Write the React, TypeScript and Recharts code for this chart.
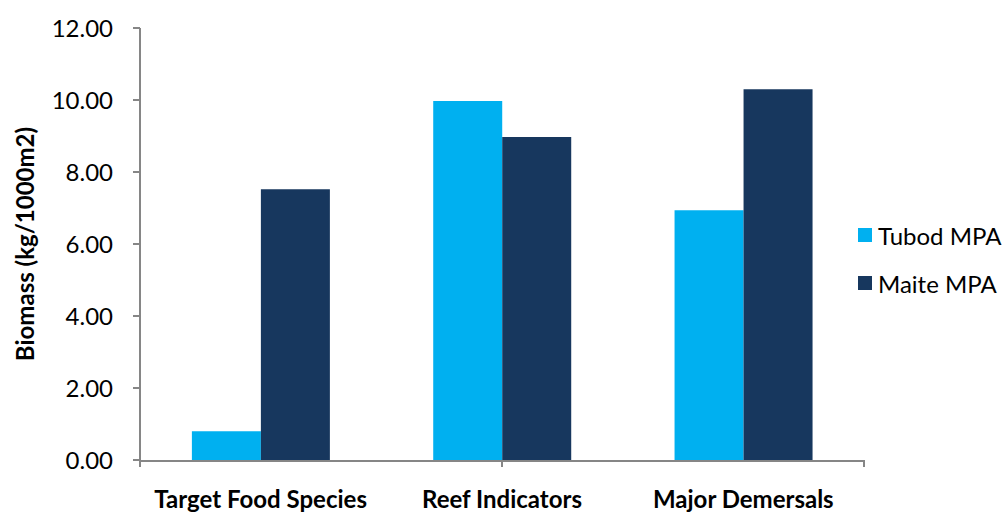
import { Bar, BarChart, Legend, XAxis, YAxis } from "recharts";

const categories = ["Target Food Species", "Reef Indicators", "Major Demersals"];
const tubod = [0.8, 9.97, 6.94];
const maite = [7.52, 8.97, 10.3];
const yTicks = [0, 2, 4, 6, 8, 10, 12];
const edgeTicks = [0, 1, 2, 3];

const data = categories.map((name, i) => ({ name, tubod: tubod[i], maite: maite[i] }));

const FONT = "Lato, 'Open Sans', sans-serif";
const AXIS = "#868686";

function LegendBox() {
  const items = [
    { label: "Tubod MPA", color: "#00B0F0" },
    { label: "Maite MPA", color: "#17375E" },
  ];
  return (
    <div style={{ fontFamily: FONT, fontSize: 24, color: "#000" }}>
      {items.map((it) => (
        <div key={it.label} style={{ display: "flex", alignItems: "center", height: 48 }}>
          <span
            style={{ width: 14, height: 14, background: it.color, display: "inline-block", marginRight: 6 }}
          />
          {it.label}
        </div>
      ))}
    </div>
  );
}

export default function App() {
  return (
    <div style={{ position: "absolute", left: 0, top: 0, background: "#fff" }}>
      <BarChart
        width={1008}
        height={512}
        data={data}
        margin={{ top: 28, right: 144, bottom: 0, left: 0 }}
        barCategoryGap="21.5%"
        barGap={0}
      >
        <XAxis
          xAxisId="a-edges"
          type="number"
          domain={[0, 3]}
          ticks={edgeTicks}
          interval={0}
          height={1}
          axisLine={false}
          tick={{ fill: "none", fontSize: 1 }}
          tickFormatter={() => ""}
          tickSize={7}
          tickLine={{ stroke: AXIS, strokeWidth: 2 }}
        />
        <XAxis
          xAxisId="main"
          dataKey="name"
          height={51}
          interval={0}
          axisLine={{ stroke: AXIS, strokeWidth: 2 }}
          tickLine={false}
          tickSize={7}
          tickMargin={23}
          tick={{ fontFamily: FONT, fontSize: 24, fontWeight: 700, fill: "#000" }}
        />
        <YAxis
          width={140}
          domain={[0, 12]}
          ticks={yTicks}
          interval={0}
          tickFormatter={(v: number) => v.toFixed(2)}
          axisLine={{ stroke: AXIS, strokeWidth: 2 }}
          tickLine={{ stroke: AXIS, strokeWidth: 2 }}
          tickSize={7}
          tickMargin={20}
          tick={{ fontFamily: FONT, fontSize: 24, fill: "#000" }}
          label={{
            value: "Biomass (kg/1000m2)",
            angle: -90,
            position: "center",
            dx: -45,
            style: { fontFamily: FONT, fontSize: 24, fontWeight: 700, fill: "#000" },
          }}
        />
        <Legend
          layout="vertical"
          verticalAlign="middle"
          align="center"
          content={<LegendBox />}
          wrapperStyle={{ left: 858, top: 211, width: 150 }}
        />
        <Bar xAxisId="main" dataKey="tubod" name="Tubod MPA" fill="#00B0F0" isAnimationActive={false} />
        <Bar xAxisId="main" dataKey="maite" name="Maite MPA" fill="#17375E" isAnimationActive={false} />
      </BarChart>
    </div>
  );
}
